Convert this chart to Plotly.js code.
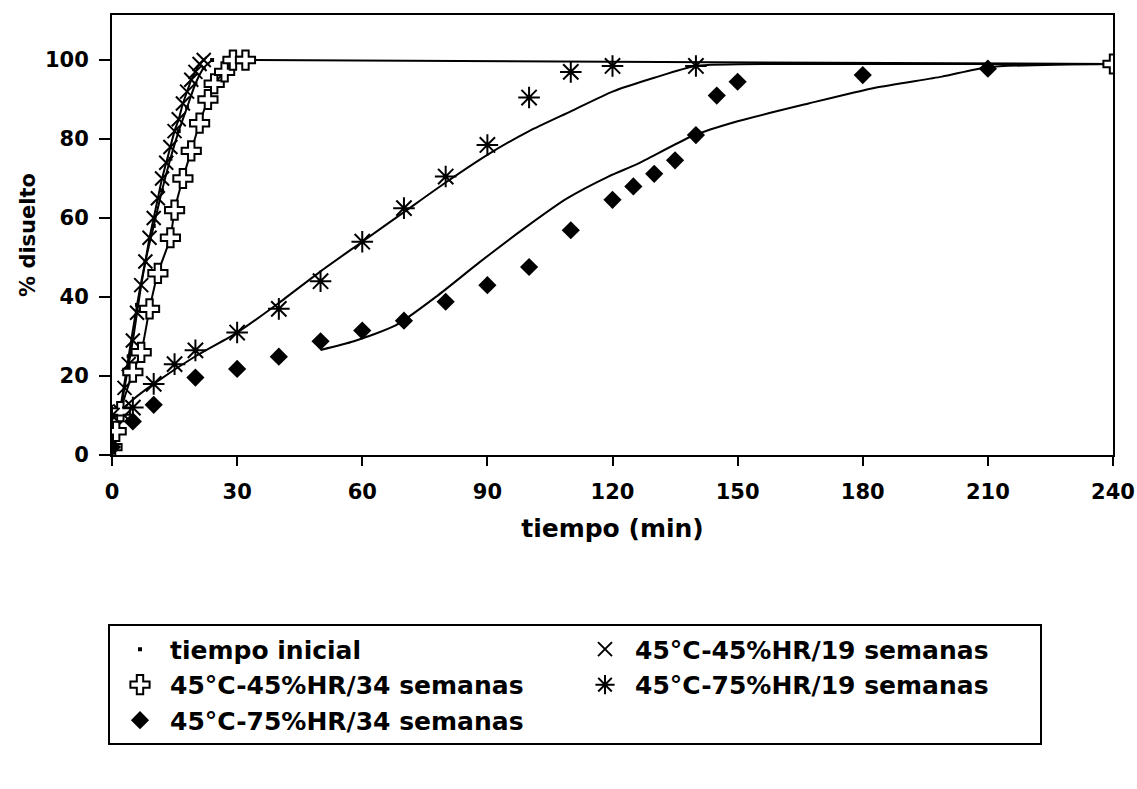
<!DOCTYPE html>
<html>
<head>
<meta charset="utf-8">
<script src="https://cdn.plot.ly/plotly-3.0.1.min.js"></script>
<style>
html,body{margin:0;padding:0;background:#fff;}
#chart{width:1137px;height:789px;}
</style>
</head>
<body>
<div id="chart"></div>
<script>
// ---- data ----
// series names
const seriesNames = [
  "tiempo inicial",
  "45°C-45%HR/19 semanas",
  "45°C-45%HR/34 semanas",
  "45°C-75%HR/19 semanas",
  "45°C-75%HR/34 semanas"
];

// tiempo inicial (tiny dots)
const t_ini = [0, 2, 4, 6, 8, 10, 12, 14, 16, 18, 20, 22, 24];
const y_ini = [3, 12, 25, 38, 49, 58, 67, 75, 82, 88, 94, 98, 100];

// 45°C-45%HR/19 semanas (x marks)
const t_45_19 = [0, 1, 2, 3, 4, 5, 6, 7, 8, 9, 10, 11, 12, 13, 14, 15, 16, 17, 18, 19, 20, 21, 22];
const y_45_19 = [3, 7, 11, 17, 23, 29, 36, 43, 49, 55, 60, 65, 70, 74, 78, 82, 85, 89, 92, 95, 97, 99, 100];

// 45°C-45%HR/34 semanas (open crosses)
const t_45_34 = [0, 1, 2, 5, 7, 9, 11, 14, 15, 17, 19, 21, 23, 24.5, 27, 29, 32, 240];
const y_45_34 = [2, 6, 11, 21, 26, 37, 46, 55, 62, 70, 77, 84, 90, 94, 97, 100, 100, 99];

// 45°C-75%HR/19 semanas (asterisks)
const t_75_19 = [0, 5, 10, 15, 20, 30, 40, 50, 60, 70, 80, 90, 100, 110, 120, 140];
const y_75_19 = [10, 12, 18, 23, 26.5, 31, 37, 44, 54, 62.5, 70.5, 78.5, 90.5, 97, 98.5, 98.5];
// fitted curve drawn through the asterisks
const tFit_75_19 = [0, 5, 10, 20, 30, 40, 50, 60, 70, 80, 90, 100, 110, 120, 130, 140, 170, 240];
const yFit_75_19 = [9, 14, 18, 25, 31, 38.5, 46.5, 54, 61.5, 69, 76, 82, 87, 92, 95.5, 98.5, 99, 99];

// 45°C-75%HR/34 semanas (filled diamonds)
const t_75_34 = [0, 5, 10, 20, 30, 40, 50, 60, 70, 80, 90, 100, 110, 120, 125, 130, 135, 140, 145, 150, 180, 210];
const y_75_34 = [2, 8.5, 12.7, 19.6, 21.8, 24.9, 28.8, 31.5, 34, 38.8, 43, 47.6, 56.9, 64.6, 68, 71.2, 74.6, 81, 91, 94.5, 96.2, 97.8];
// fitted curve drawn near the diamonds
const tFit_75_34 = [50, 58, 68, 78, 88, 99, 109, 119, 126, 139, 150, 167, 183, 199, 210, 240];
const yFit_75_34 = [26.6, 28.8, 32.8, 40.3, 48.7, 57.5, 64.9, 70.5, 73.7, 80.7, 84.5, 89, 93, 95.8, 98.2, 99];

// axis ticks
const xTicks = [0, 30, 60, 90, 120, 150, 180, 210, 240];
const yTicks = [0, 20, 40, 60, 80, 100];

// ---- chart ----
const FONT = "DejaVu Sans, Liberation Sans, Arial, sans-serif";
const lineStyle = {color: "black", width: 2, shape: "spline", smoothing: 0.6};

function lineTrace(x, y) {
  return {x: x, y: y, type: "scatter", mode: "lines", line: lineStyle,
          showlegend: false, hoverinfo: "skip"};
}

const traces = [
  lineTrace(t_ini, y_ini),
  lineTrace(t_45_19, y_45_19),
  lineTrace(t_45_34, y_45_34),
  lineTrace(tFit_75_19, yFit_75_19),
  lineTrace(tFit_75_34, yFit_75_34),
  {x: t_ini, y: y_ini, name: seriesNames[0], type: "scatter", mode: "markers",
   marker: {symbol: "square", size: 4, color: "black"}},
  {x: t_45_19, y: y_45_19, name: seriesNames[1], type: "scatter", mode: "markers",
   marker: {symbol: "x-thin", size: 14, color: "black", line: {color: "black", width: 2}}},
  {x: t_45_34, y: y_45_34, name: seriesNames[2], type: "scatter", mode: "markers",
   marker: {symbol: "cross", size: 16, color: "white", line: {color: "black", width: 2}}},
  {x: t_75_19, y: y_75_19, name: seriesNames[3], type: "scatter", mode: "markers",
   marker: {symbol: "asterisk", size: 18, color: "black", line: {color: "black", width: 2}}},
  {x: t_75_34, y: y_75_34, name: seriesNames[4], type: "scatter", mode: "markers",
   marker: {symbol: "diamond", size: 14, color: "black"}}
];

const layout = {
  width: 1137, height: 789,
  paper_bgcolor: "white", plot_bgcolor: "white",
  margin: {l: 112, r: 24, t: 15, b: 334},
  font: {family: FONT, color: "black", size: 20, weight: "bold"},
  showlegend: true,
  xaxis: {
    range: [0, 240], tickvals: xTicks, ticktext: xTicks.map(String),
    ticks: "outside", ticklen: 9, tickwidth: 2, tickcolor: "black",
    showline: true, linecolor: "black", linewidth: 2, mirror: true,
    showgrid: false, zeroline: false, ticklabelstandoff: 8,
    tickfont: {family: FONT, size: 21, weight: "bold", color: "black"},
    title: {text: "tiempo (min)", standoff: 16,
            font: {family: FONT, size: 25, weight: "bold", color: "black"}}
  },
  yaxis: {
    range: [0, 111.4], tickvals: yTicks, ticktext: yTicks.map(String),
    ticks: "outside", ticklen: 11, tickwidth: 2, tickcolor: "black",
    showline: true, linecolor: "black", linewidth: 2, mirror: true,
    showgrid: false, zeroline: false, ticklabelstandoff: 6,
    tickfont: {family: FONT, size: 21, weight: "bold", color: "black"},
    title: {text: "% disuelto", standoff: 4,
            font: {family: FONT, size: 21, weight: "bold", color: "black"}}
  },
  legend: {
    orientation: "h", x: -0.004, xanchor: "left", y: -0.385, yanchor: "top",
    bordercolor: "black", borderwidth: 2, bgcolor: "white",
    entrywidth: 400, entrywidthmode: "pixels", itemwidth: 50,
    font: {family: FONT, size: 25, weight: "bold", color: "black"},
    itemsizing: "trace"
  }
};

Plotly.newPlot("chart", traces, layout, {displayModeBar: false, staticPlot: true});
</script>
</body>
</html>
